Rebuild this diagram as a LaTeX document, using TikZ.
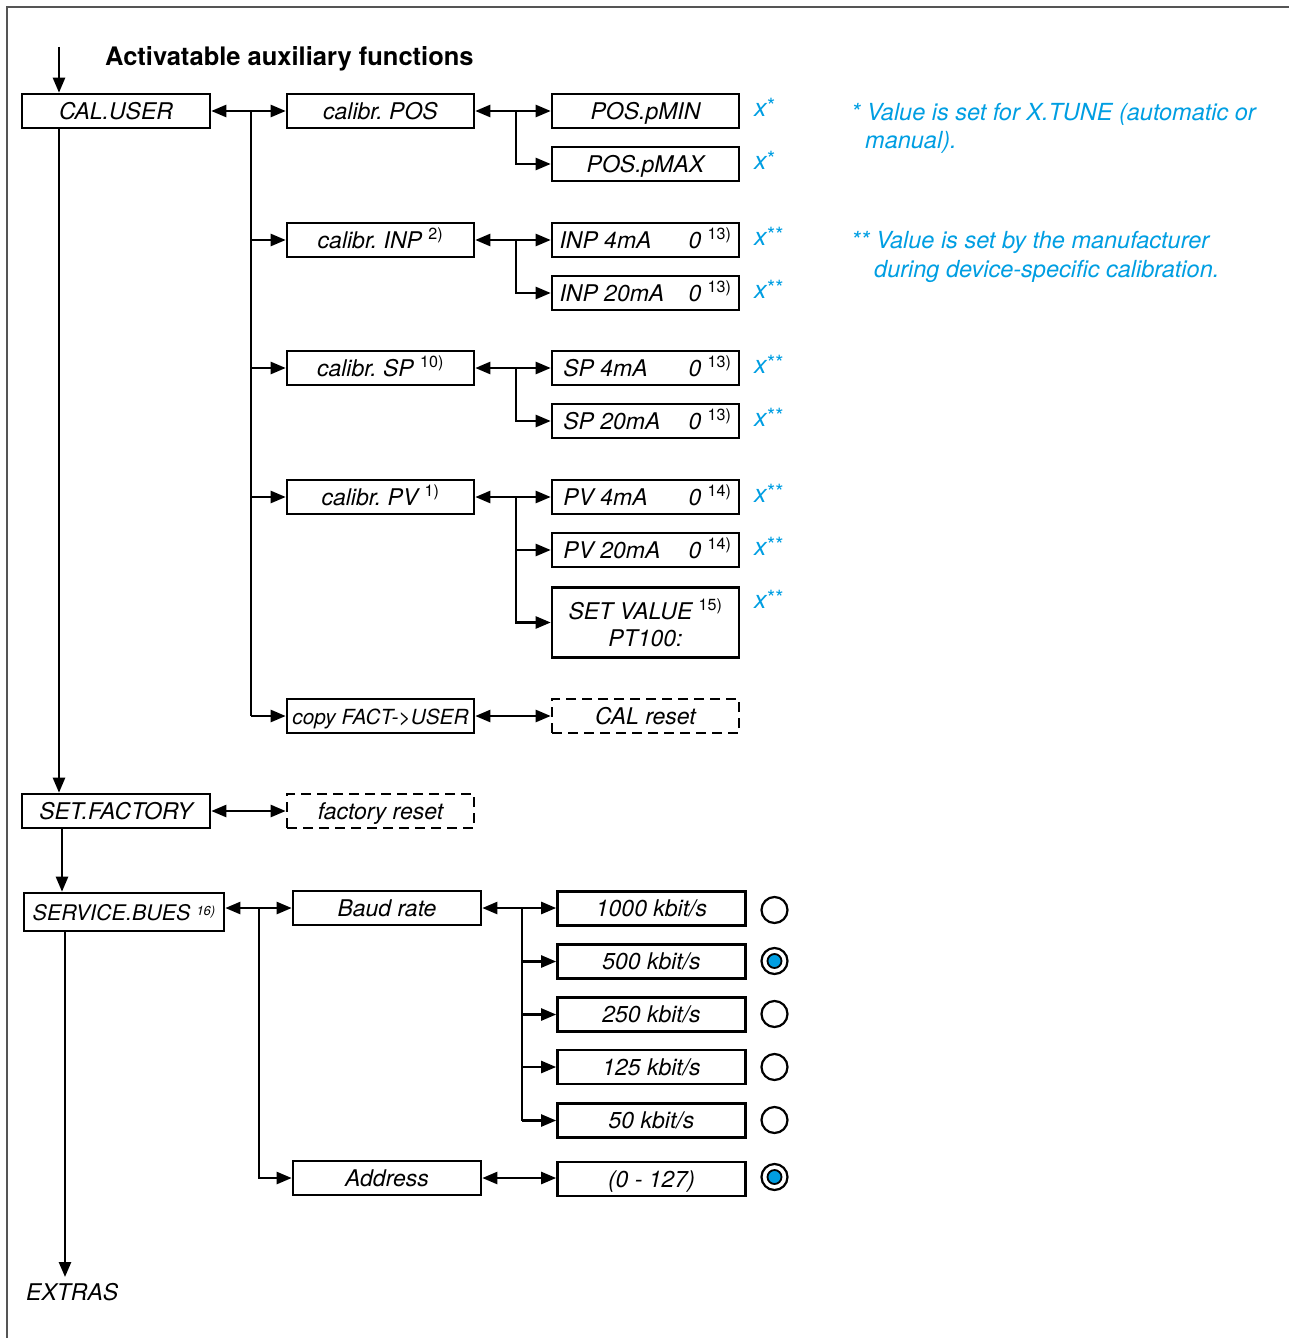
\documentclass[tikz,border=0pt]{standalone}
\usepackage{fontspec}
\setmainfont{TeX Gyre Heros}
\usetikzlibrary{arrows.meta}
\definecolor{fblue}{RGB}{0,158,226}
\definecolor{framegray}{RGB}{85,85,85}
\frenchspacing
\newcommand\fnm[1]{\textsuperscript{\upshape #1}}
\newcommand\st[1]{\kern0.5pt\raisebox{3pt}{\fontsize{21}{21}\selectfont\upshape #1}}
\tikzset{
  boxbase/.style={draw, line width=2.6pt, minimum width=187pt, minimum height=34pt, inner sep=0pt, font=\fontsize{23}{27}\selectfont\itshape, align=center},
  box/.style={boxbase, text height=20pt, text depth=3.5pt},
  dbox/.style={box, dash pattern=on 10pt off 6pt},
  conn/.style={line width=2.4pt},
  arr/.style={line width=2.4pt, -{Triangle[length=15pt,width=12pt]}},
  darr/.style={line width=2.4pt, {Triangle[length=15pt,width=12pt]}-{Triangle[length=15pt,width=12pt]}},
  xmark/.style={text=fblue, font=\fontsize{25}{29}\selectfont\itshape, anchor=base west, inner sep=0pt},
  note/.style={text=fblue, font=\fontsize{23.5}{27}\selectfont\itshape, anchor=base west, inner sep=0pt},
  radio/.style={draw, line width=2.2pt, circle, minimum size=26pt, inner sep=0pt},
  radioin/.style={draw, line width=1.8pt, circle, minimum size=14pt, inner sep=0pt, fill=fblue}
}
\newcommand\lr[2]{\hbox to 172pt{#1\hfill #2}}
\begin{document}
\begin{tikzpicture}[x=1pt,y=-1pt]
\useasboundingbox (0,0) rectangle (1289,1338);
\draw[framegray, line width=2pt] (7,1338) -- (7,7) -- (1289,7);

\node[anchor=base west, inner sep=0pt, font=\fontsize{25.5}{29}\selectfont\bfseries] (title) at (105,66) {Activatable auxiliary functions};

% level 1
\node[box, minimum width=188pt] (calu) at (116,111) {CAL.USER};
\node[box, minimum width=188pt] (setf) at (116,811) {SET.FACTORY};
\node[box, minimum width=200pt, minimum height=38pt, font=\fontsize{21.5}{25}\selectfont\itshape] (serv) at (124,912) {SERVICE.BUES \raisebox{5pt}{\fontsize{13}{13}\selectfont 16)}};
\node[inner sep=0pt, font=\fontsize{23}{27}\selectfont\itshape, anchor=base west] (extras) at (26,1300) {EXTRAS};

% level 2
\node[box] (cpos) at (380.5,111) {calibr. POS};
\node[box] (cinp) at (380.5,240) {calibr. INP \fnm{2)}};
\node[box] (csp) at (380.5,368) {calibr. SP \fnm{10)}};
\node[box] (cpv) at (380.5,497) {calibr. PV \fnm{1)}};
\node[box, font=\fontsize{20.8}{25}\selectfont\itshape] (copy) at (380.5,716) {copy FACT->USER};
\node[dbox] (facr) at (380.5,811) {factory reset};
\node[box, minimum width=188pt] (baud) at (387,908) {Baud rate};
\node[box, minimum width=188pt] (addr) at (387,1178) {Address};

% level 3
\node[box] (pmin) at (645.5,111) {POS.pMIN};
\node[box] (pmax) at (645.5,164) {POS.pMAX};
\node[box] (inp4) at (645.5,240) {\lr{INP 4mA}{0 \fnm{13)}}};
\node[box] (inp20) at (645.5,293) {\lr{INP 20mA}{0 \fnm{13)}}};
\node[box] (sp4) at (645.5,368) {\lr{\,SP 4mA}{0 \fnm{13)}}};
\node[box] (sp20) at (645.5,421) {\lr{\,SP 20mA}{0 \fnm{13)}}};
\node[box] (pv4) at (645.5,497) {\lr{\,PV 4mA}{0 \fnm{14)}}};
\node[box] (pv20) at (645.5,550) {\lr{\,PV 20mA}{0 \fnm{14)}}};
\node[boxbase, minimum height=70pt] (setv) at (645.5,622.5) {SET VALUE \fnm{15)}\\PT100:};
\node[dbox] (calr) at (645.5,716) {CAL reset};

\node[box, minimum width=188pt] (k1000) at (651.5,908.5) {1000 kbit/s};
\node[box, minimum width=188pt] (k500) at (651.5,961.5) {500 kbit/s};
\node[box, minimum width=188pt] (k250) at (651.5,1014.5) {250 kbit/s};
\node[box, minimum width=188pt] (k125) at (651.5,1067) {125 kbit/s};
\node[box, minimum width=188pt] (k50) at (651.5,1120.5) {50 kbit/s};
\node[box, minimum width=188pt] (a0127) at (651.5,1179) {(0 - 127)};

% marks
\node[xmark] (m1) at (754,116) {x\st{*}};
\node[xmark] (m2) at (754,169) {x\st{*}};
\node[xmark] (m3) at (754,245) {x\st{**}};
\node[xmark] (m4) at (754,298) {x\st{**}};
\node[xmark] (m5) at (754,373) {x\st{**}};
\node[xmark] (m6) at (754,426) {x\st{**}};
\node[xmark] (m7) at (754,502) {x\st{**}};
\node[xmark] (m8) at (754,555) {x\st{**}};
\node[xmark] (m9) at (754,608) {x\st{**}};

% notes
\node[note] (n1) at (851,120) {* Value is set for X.TUNE (automatic or};
\node[note] (n1b) at (865,148) {manual).};
\node[note] (n2) at (851,248) {** Value is set by the manufacturer};
\node[note] (n2b) at (874,277) {during device-specific calibration.};

% radio buttons
\node[radio] (r1) at (774.5,910) {};
\node[radio] (r2) at (774.5,961) {};
\node[radioin] (r2i) at (774.5,961) {};
\node[radio] (r3) at (774.5,1014) {};
\node[radio] (r4) at (774.5,1067) {};
\node[radio] (r5) at (774.5,1120) {};
\node[radio] (r6) at (774.5,1177) {};
\node[radioin] (r6i) at (774.5,1177) {};

% connectors level 1
\coordinate (in) at (59,47);
\draw[arr] (in) -- (in |- calu.north);
\draw[arr] (in |- calu.south) -- (in |- setf.north);
\coordinate (sf) at (62,828);
\draw[arr] (setf.south -| sf) -- (serv.north -| sf);
\coordinate (ex) at (65,1277);
\draw[arr] (serv.south -| ex) -- (ex);

% CAL.USER branch
\draw[darr] (calu.east) -- (cpos.west);
\coordinate (b1) at (251,111);
\draw[conn] (b1) -- (b1 |- copy.west);
\draw[arr] (b1 |- cinp.west) -- (cinp.west);
\draw[arr] (b1 |- csp.west) -- (csp.west);
\draw[arr] (b1 |- cpv.west) -- (cpv.west);
\draw[arr] (b1 |- copy.west) -- (copy.west);

% second level
\draw[darr] (cpos.east) -- (pmin.west);
\coordinate (b2) at (516,111);
\draw[arr] (b2) |- (pmax.west);
\draw[darr] (cinp.east) -- (inp4.west);
\coordinate (b3) at (516,240);
\draw[arr] (b3) |- (inp20.west);
\draw[darr] (csp.east) -- (sp4.west);
\coordinate (b4) at (516,368);
\draw[arr] (b4) |- (sp20.west);
\draw[darr] (cpv.east) -- (pv4.west);
\coordinate (b5) at (516,497);
\draw[conn] (b5) -- (b5 |- pv20.west);
\draw[arr] (b5 |- pv20.west) -- (pv20.west);
\draw[arr] (b5 |- pv20.west) |- (setv.west);
\draw[darr] (copy.east) -- (calr.west);
\draw[darr] (setf.east) -- (facr.west);

% service
\draw[darr] (serv.east |- baud.west) -- (baud.west);
\coordinate (b6) at (259,908);
\draw[arr] (b6) |- (addr.west);
\draw[darr] (baud.east) -- (k1000.west |- baud.east);
\coordinate (b7) at (522,908);
\draw[conn] (b7) -- (b7 |- k50.west);
\draw[arr] (b7 |- k500.west) -- (k500.west);
\draw[arr] (b7 |- k250.west) -- (k250.west);
\draw[arr] (b7 |- k125.west) -- (k125.west);
\draw[arr] (b7 |- k50.west) -- (k50.west);
\draw[darr] (addr.east) -- (a0127.west |- addr.east);
\end{tikzpicture}
\end{document}
